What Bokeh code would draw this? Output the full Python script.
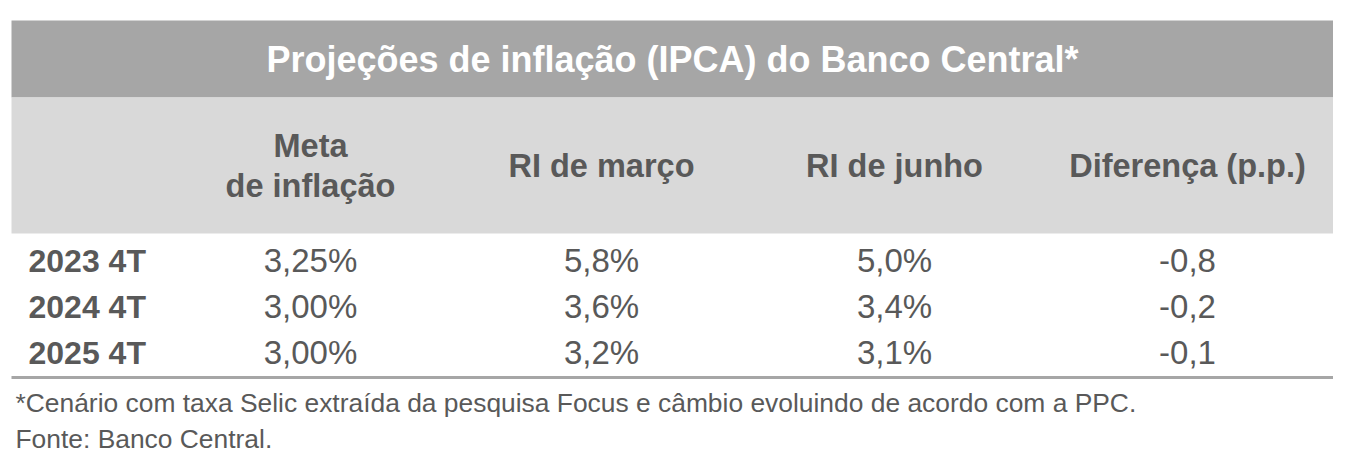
from bokeh.plotting import figure
from bokeh.models import Range1d
from bokeh.core.properties import value
from bokeh.embed import file_html
from bokeh.resources import INLINE

# ---- data ----
title = "Projeções de inflação (IPCA) do Banco Central*"
columns = ["Meta\nde inflação", "RI de março", "RI de junho", "Diferença (p.p.)"]
rows = ["2023 4T", "2024 4T", "2025 4T"]
meta = ["3,25%", "3,00%", "3,00%"]
ri_marco = ["5,8%", "3,6%", "3,2%"]
ri_junho = ["5,0%", "3,4%", "3,1%"]
diferenca = ["-0,8", "-0,2", "-0,1"]
footnote = "*Cenário com taxa Selic extraída da pesquisa Focus e câmbio evoluindo de acordo com a PPC."
source = "Fonte: Banco Central."

# ---- layout (screen pixel coordinates) ----
W, H = 1333, 453
FONT = "Liberation Sans"
TXT = "#595959"
tbl_left, tbl_right = 11, 1333
title_top, title_bot = 20, 97
head_top, head_bot = 97, 233
col_x = [310, 601, 894, 1187]
row_y = [260, 306, 352]
row_label_x = 28
line_y = 377

p = figure(width=W, height=H, x_range=Range1d(0, W), y_range=Range1d(H, 0),
           output_backend="svg", toolbar_location=None, min_border=0,
           background_fill_color="white", border_fill_color="white")
p.axis.visible = False
p.grid.visible = False
p.outline_line_color = None

# bands
p.quad(left=[tbl_left, tbl_left], right=[tbl_right, tbl_right],
       top=[title_top, head_top], bottom=[title_bot, head_bot],
       fill_color=["#a6a6a6", "#d9d9d9"], line_color=None)

# title
p.text(x=[(tbl_left + tbl_right) / 2], y=[(title_top + title_bot) / 2], text=[title],
       text_font=value(FONT), text_font_size="36px", text_font_style="bold",
       text_color="white", text_align="center", text_baseline="middle")

# headers
head_mid = (head_top + head_bot) / 2
hx, hy, ht = [], [], []
for cx, c in zip(col_x, columns):
    lines = c.split("\n")
    n = len(lines)
    for i, ln in enumerate(lines):
        hx.append(cx)
        hy.append(head_mid + (i - (n - 1) / 2) * 40)
        ht.append(ln)
p.text(x=hx, y=hy, text=ht, text_font=value(FONT), text_font_size="32.5px",
       text_font_style="bold", text_color=TXT, text_align="center", text_baseline="middle")

# row labels
p.text(x=[row_label_x] * len(rows), y=row_y, text=rows, text_font=value(FONT),
       text_font_size="32px", text_font_style="bold", text_color=TXT,
       text_align="left", text_baseline="middle")

# values
vx, vy, vt = [], [], []
for cx, series in zip(col_x, [meta, ri_marco, ri_junho, diferenca]):
    for ry, v in zip(row_y, series):
        vx.append(cx); vy.append(ry); vt.append(v)
p.text(x=vx, y=vy, text=vt, text_font=value(FONT), text_font_size="33px",
       text_color=TXT, text_align="center", text_baseline="middle")

# bottom rule
p.segment(x0=[tbl_left], y0=[line_y], x1=[tbl_right], y1=[line_y],
          line_color="#a6a6a6", line_width=3)

# notes
p.text(x=[15, 15], y=[402, 438], text=[footnote, source], text_font=value(FONT),
       text_font_size="26.4px", text_color=TXT, text_align="left", text_baseline="middle")

open("out.html", "w").write(file_html(p, INLINE))
